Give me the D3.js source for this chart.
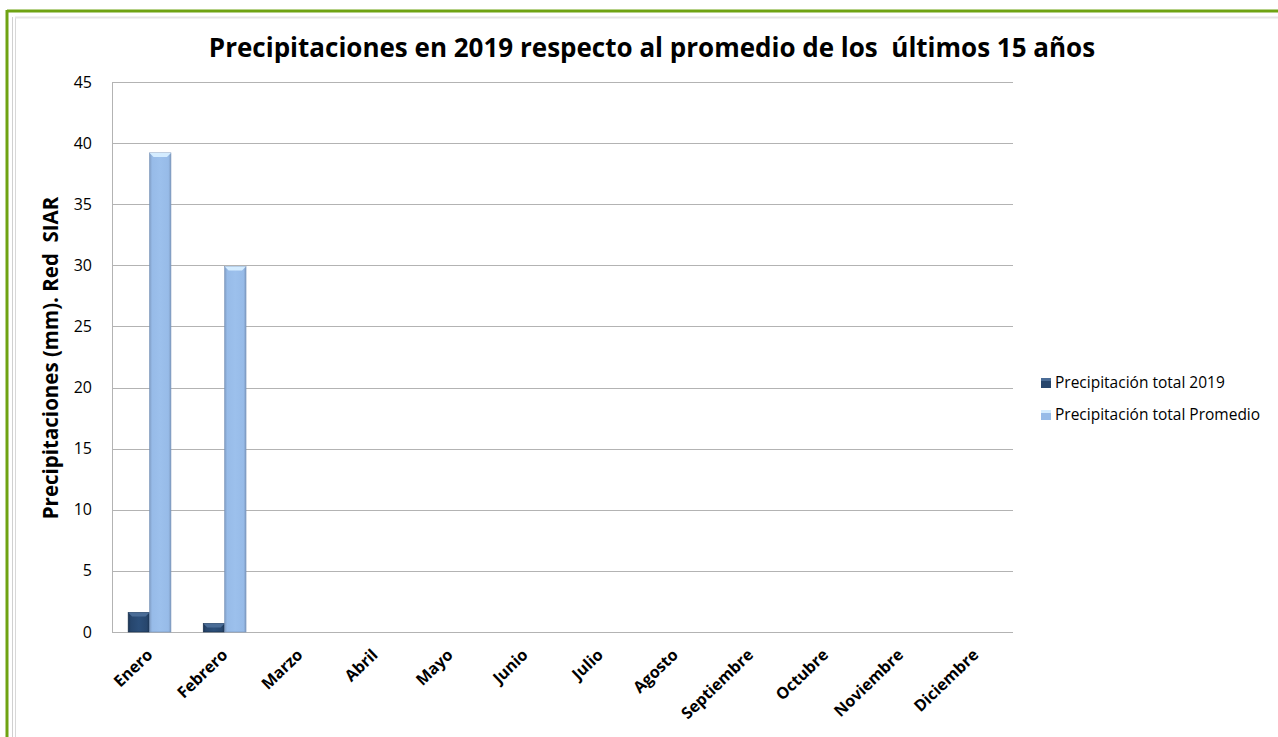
<!DOCTYPE html>
<html>
<head>
<meta charset="utf-8">
<script src="https://cdn.jsdelivr.net/npm/d3@7"></script>
<style>
  html, body { margin: 0; padding: 0; background: #fff; }
  svg { display: block; }
</style>
</head>
<body>
<div id="chart"></div>
<script>
const months = ['Enero', 'Febrero', 'Marzo', 'Abril', 'Mayo', 'Junio', 'Julio', 'Agosto', 'Septiembre', 'Octubre', 'Noviembre', 'Diciembre']
const total2019 = [1.6, 0.7, 0, 0, 0, 0, 0, 0, 0, 0, 0, 0]
const promedio = [39.2, 29.9, 0, 0, 0, 0, 0, 0, 0, 0, 0, 0]
const seriesNames = ['Precipitación total 2019', 'Precipitación total Promedio']
const yTicks = [0, 5, 10, 15, 20, 25, 30, 35, 40, 45]

const width = 1278
const height = 737
const margin = { top: 82, right: 265, bottom: 105, left: 112 }
const innerW = width - margin.left - margin.right
const innerH = height - margin.top - margin.bottom
const FONT = 'Open Sans, sans-serif'

const svg = d3.select('#chart').append('svg')
  .attr('width', width)
  .attr('height', height)

// gradients for bevelled bars
const defs = svg.append('defs')
const grad = (id, stops) => {
  const g = defs.append('linearGradient').attr('id', id).attr('x1', 0).attr('x2', 1).attr('y1', 0).attr('y2', 0)
  stops.forEach(([o, c]) => g.append('stop').attr('offset', o).attr('stop-color', c))
}
grad('darkBar', [[0, '#1a3352'], [0.12, '#27466d'], [0.5, '#2c4f7a'], [0.88, '#27466d'], [1, '#1a3352']])
grad('lightBar', [[0, '#7f9cc3'], [0.12, '#97bbe8'], [0.5, '#9cc0ec'], [0.88, '#97bbe8'], [1, '#7f9cc3']])

// frame
svg.append('line').attr('x1', 7).attr('x2', width).attr('y1', 11).attr('y2', 11)
  .attr('stroke', '#6fa313').attr('stroke-width', 3)
svg.append('line').attr('x1', 7).attr('x2', 7).attr('y1', 10).attr('y2', height)
  .attr('stroke', '#6fa313').attr('stroke-width', 3)
svg.append('line').attr('x1', 12.5).attr('x2', 12.5).attr('y1', 17).attr('y2', height)
  .attr('stroke', '#d0d0d0').attr('stroke-width', 1)
svg.append('line').attr('x1', 15.5).attr('x2', 15.5).attr('y1', 17).attr('y2', height)
  .attr('stroke', '#d8d8d8').attr('stroke-width', 1)
svg.append('line').attr('x1', 15).attr('x2', width).attr('y1', 17.5).attr('y2', 17.5)
  .attr('stroke', '#e6e6e6').attr('stroke-width', 2)

const x = d3.scaleBand().domain(months).range([0, innerW]).paddingInner(0.43).paddingOuter(0.215)
const xs = d3.scaleBand().domain([0, 1]).range([0, x.bandwidth()])
const y = d3.scaleLinear().domain([0, 45]).range([innerH, 0])

const g = svg.append('g').attr('transform', `translate(${margin.left},${margin.top})`)

// gridlines
g.append('g')
  .selectAll('line')
  .data(yTicks)
  .join('line')
  .attr('x1', 0).attr('x2', innerW)
  .attr('y1', d => Math.round(y(d)) + 0.5).attr('y2', d => Math.round(y(d)) + 0.5)
  .attr('stroke', '#b3b3b3')

// left axis line
g.append('line').attr('x1', 0.5).attr('x2', 0.5).attr('y1', 0).attr('y2', innerH)
  .attr('stroke', '#b3b3b3')

// y tick labels
g.append('g')
  .selectAll('text')
  .data(yTicks)
  .join('text')
  .attr('x', -20)
  .attr('y', d => y(d))
  .attr('dy', '0.35em')
  .attr('text-anchor', 'end')
  .attr('font-family', FONT)
  .attr('font-size', 16)
  .attr('fill', '#000')
  .text(d => d)

// bars
const series = [
  { values: total2019, fill: 'url(#darkBar)', cap: '#4a6c96', edge: '#172d49' },
  { values: promedio, fill: 'url(#lightBar)', cap: '#d4ecff', edge: '#7893b8' }
]
series.forEach((s, si) => {
  const bars = g.append('g')
    .selectAll('g')
    .data(months.map((m, i) => ({ m, v: s.values[i] })).filter(d => d.v > 0))
    .join('g')
    .attr('transform', d => `translate(${x(d.m) + xs(si)},0)`)
  const bw = xs.bandwidth()
  bars.append('rect')
    .attr('x', 0).attr('width', bw)
    .attr('y', d => y(d.v)).attr('height', d => y(0) - y(d.v))
    .attr('fill', s.fill)
    .attr('stroke', s.edge).attr('stroke-width', 0.6)
  bars.append('path')
    .attr('d', d => {
      const t = y(d.v)
      return `M0,${t}L${bw},${t}L${bw - 4},${t + 4}L4,${t + 4}Z`
    })
    .attr('fill', s.cap)
})

// x labels
g.append('g')
  .selectAll('text')
  .data(months)
  .join('text')
  .attr('transform', d => `translate(${x(d) + x.bandwidth() / 2 + 4},${innerH + 24}) rotate(-44)`)
  .attr('text-anchor', 'end')
  .attr('font-family', FONT)
  .attr('font-weight', 'bold')
  .attr('font-size', 16)
  .attr('fill', '#000')
  .text(d => d)

// axis title
svg.append('text')
  .attr('transform', `translate(58,358) rotate(-90)`)
  .attr('text-anchor', 'middle')
  .attr('font-family', FONT)
  .attr('font-weight', 'bold')
  .attr('font-size', 20.5)
  .attr('fill', '#000')
  .attr('xml:space', 'preserve')
  .text('Precipitaciones (mm). Red  SIAR')

// title
svg.append('text')
  .attr('x', 652).attr('y', 57)
  .attr('text-anchor', 'middle')
  .attr('font-family', FONT)
  .attr('font-weight', 'bold')
  .attr('font-size', 26)
  .attr('fill', '#000')
  .attr('xml:space', 'preserve')
  .text('Precipitaciones en 2019 respecto al promedio de los  últimos 15 años')

// legend
const legend = svg.append('g').attr('transform', 'translate(1041,383)')
const legendColors = [['#27466d', '#4a6c96'], ['#97bbe8', '#d4ecff']]
seriesNames.forEach((name, i) => {
  const row = legend.append('g').attr('transform', `translate(0,${i * 32})`)
  row.append('rect').attr('x', 0).attr('y', -5).attr('width', 10).attr('height', 10).attr('fill', legendColors[i][0])
  row.append('rect').attr('x', 0).attr('y', -5).attr('width', 10).attr('height', 3).attr('fill', legendColors[i][1])
  row.append('text')
    .attr('x', 14).attr('y', 0).attr('dy', '0.35em')
    .attr('font-family', FONT)
    .attr('font-size', 15.5)
    .attr('fill', '#000')
    .text(name)
})
</script>
</body>
</html>
